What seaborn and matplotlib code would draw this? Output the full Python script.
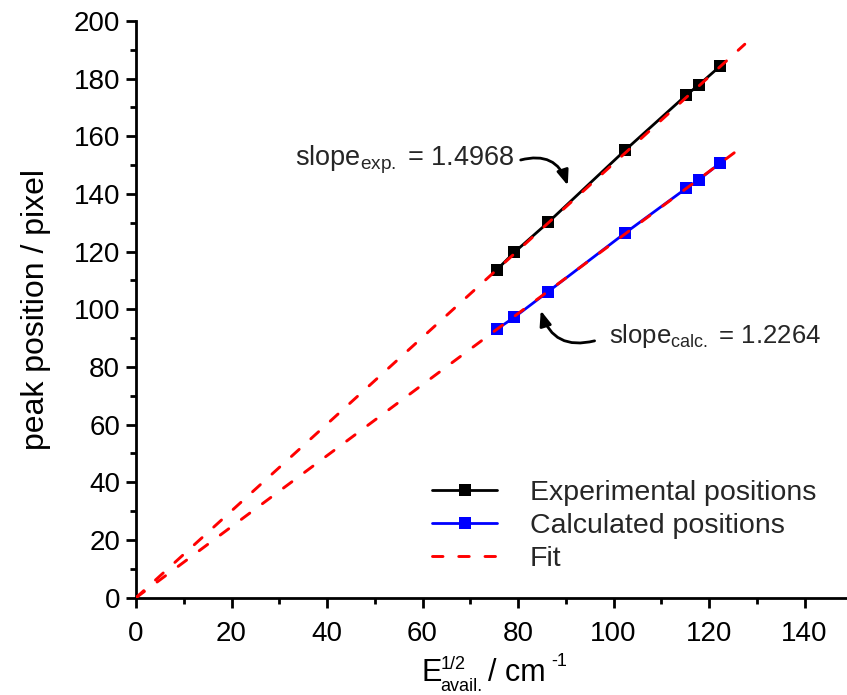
import numpy as np
import pandas as pd
import matplotlib
matplotlib.use("Agg")
import matplotlib.pyplot as plt
import seaborn as sns

# ---- data ----
x_pos = [75.5, 79.2, 86.3, 102.4, 115.2, 117.8, 122.4]
y_exp = [113.6, 119.7, 130.1, 155.1, 174.2, 177.7, 184.4]
y_calc = [93.0, 97.2, 106.1, 126.4, 141.9, 144.8, 150.8]
fit_exp_x = [0.0, 127.5]
fit_exp_y = [0.0, 191.9]
fit_calc_x = [0.0, 125.4]
fit_calc_y = [0.0, 154.4]
x_ticks = [0, 20, 40, 60, 80, 100, 120, 140]
y_ticks = [0, 20, 40, 60, 80, 100, 120, 140, 160, 180, 200]

sns.set_style("ticks")
plt.rcParams['font.family'] = ['Liberation Sans', 'DejaVu Sans']
plt.rcParams['mathtext.fontset'] = 'custom'
plt.rcParams['mathtext.rm'] = 'Liberation Sans'
plt.rcParams['mathtext.it'] = 'Liberation Sans'
plt.rcParams['mathtext.default'] = 'regular'

W, H = 847, 695
fig = plt.figure(figsize=(W / 100, H / 100), dpi=100)
ax = fig.add_axes([0.1606, 0.14, 0.8394, 0.830])

df_exp = pd.DataFrame({"x": x_pos, "y": y_exp})
df_calc = pd.DataFrame({"x": x_pos, "y": y_calc})
sns.lineplot(data=df_exp, x="x", y="y", ax=ax, color="black", marker="s",
             markersize=8, markeredgewidth=0, linewidth=2,
             label="Experimental positions", zorder=3)
sns.lineplot(data=df_calc, x="x", y="y", ax=ax, color="#0000ff", marker="s",
             markersize=8, markeredgewidth=0, linewidth=2,
             label="Calculated positions", zorder=3)

df_fe = pd.DataFrame({"x": fit_exp_x, "y": fit_exp_y})
df_fc = pd.DataFrame({"x": fit_calc_x, "y": fit_calc_y})
dash = (0, (3.6, 5.4))
sns.lineplot(data=df_fe, x="x", y="y", ax=ax, color="#ff0000", linewidth=2.1,
             label="Fit", zorder=4)
sns.lineplot(data=df_fc, x="x", y="y", ax=ax, color="#ff0000", linewidth=2.1,
             zorder=4)
for ln in ax.get_lines()[2:]:
    ln.set_linestyle(dash)
    ln.set_dash_capstyle('round')

ax.set_xlim(0, 148.9)
ax.set_ylim(0, 200)
ax.set_xticks(x_ticks)
ax.set_yticks(y_ticks)
ax.set_xticks(np.arange(10, 150, 20), minor=True)
ax.set_yticks(np.arange(10, 200, 20), minor=True)
ax.tick_params(axis='both', which='major', labelsize=20, length=7.5, width=2,
               direction='out', pad=4, color='black', labelcolor='black')
ax.tick_params(axis='x', which='major', pad=9)
ax.tick_params(axis='both', which='minor', length=4, width=2, direction='out',
               color='black')

for s in ['top', 'right']:
    ax.spines[s].set_visible(False)
for s in ['left', 'bottom']:
    ax.spines[s].set_linewidth(2)
    ax.spines[s].set_color('black')

ax.set_xlabel("")
ax.set_ylabel("peak position / pixel", fontsize=23, labelpad=16, color='black')

# x-axis label built from pieces (pixel positions -> figure fractions)
def ftext(px, py, s, size):
    fig.text(px / W, 1 - py / H, s, fontsize=size, ha='left', va='baseline',
             color='black')

ftext(421, 681, "E", 22)
ftext(441, 669, "1/2", 13)
ftext(440, 691, "avail.", 13)
ftext(488, 681, "/ cm", 22)
ftext(551, 666, "-1", 13)

ax.text(33.3, 151.8, r"slope$_{exp.}$ = 1.4968", fontsize=19.5, va='center',
        ha='left')
ax.annotate("", xy=(90.6, 142.0), xytext=(80.0, 151.5),
            arrowprops=dict(arrowstyle="-|>,head_length=0.9,head_width=0.35",
                            color="black", lw=2,
                            connectionstyle="arc3,rad=-0.5"))
ax.text(99.0, 90.8, r"slope$_{calc.}$ = 1.2264", fontsize=18.5, va='center',
        ha='left')
ax.annotate("", xy=(84.6, 100.5), xytext=(96.6, 89.3),
            arrowprops=dict(arrowstyle="-|>,head_length=0.9,head_width=0.35",
                            color="black", lw=2,
                            connectionstyle="arc3,rad=-0.5"))

leg = ax.legend(loc='center left', bbox_to_anchor=(0.416, 0.124),
                frameon=False, fontsize=20.5, handlelength=2.3,
                labelspacing=0.25, handletextpad=1.15, borderpad=0,
                borderaxespad=0)
for h in leg.get_lines()[2:]:
    h.set_linestyle(dash)
    h.set_dash_capstyle('round')

fig.savefig("out.png", dpi=100)
